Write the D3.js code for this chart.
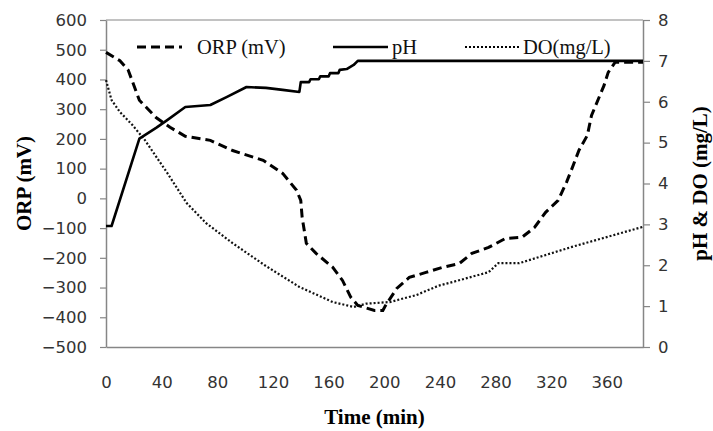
<!DOCTYPE html>
<html>
<head>
<meta charset="utf-8">
<script src="https://cdn.jsdelivr.net/npm/d3@7"></script>
<style>
  body { margin: 0; background: #fff; }
  svg { display: block; }
</style>
</head>
<body>
<div id="chart"></div>
<script>
// values
var orpTime = [0, 10, 16, 24, 36, 46, 57, 75, 91, 113, 127, 137, 140, 141, 144, 151, 163, 170, 176, 181, 193, 199, 201, 209, 218, 230, 242, 254, 263, 275, 287, 299, 308, 316, 325, 331, 335, 340, 346, 349, 358, 361, 366, 386];
var orpValue = [491, 463, 431, 330, 272, 239, 209, 195, 161, 128, 84, 27, -7, -64, -151, -185, -232, -276, -333, -360, -377, -377, -360, -303, -266, -249, -232, -219, -185, -165, -135, -131, -98, -47, -7, 54, 101, 162, 212, 279, 380, 424, 458, 458];

var phTime = [0, 4, 24, 36, 44, 57, 75, 87, 101, 115, 127, 139, 140, 146, 147, 153, 154, 160, 161, 167, 168, 173, 178, 181, 386];
var phValue = [2.96, 2.96, 5.1, 5.36, 5.55, 5.87, 5.92, 6.12, 6.36, 6.34, 6.29, 6.24, 6.48, 6.48, 6.55, 6.55, 6.62, 6.62, 6.7, 6.7, 6.78, 6.8, 6.9, 7.0, 7.0];

var doTime = [0, 4, 10, 19, 28, 44, 58, 72, 91, 115, 139, 163, 178, 187, 204, 223, 239, 247, 275, 282, 297, 335, 386];
var doValue = [6.53, 6.04, 5.75, 5.43, 5.06, 4.26, 3.52, 3.03, 2.54, 1.98, 1.47, 1.1, 0.98, 1.06, 1.1, 1.27, 1.5, 1.57, 1.83, 2.05, 2.05, 2.45, 2.94];

var xTicks = [0, 40, 80, 120, 160, 200, 240, 280, 320, 360];
var leftTicks = [-500, -400, -300, -200, -100, 0, 100, 200, 300, 400, 500, 600];
var rightTicks = [0, 1, 2, 3, 4, 5, 6, 7, 8];

var W = 713, H = 431;
var pLeft = 106, pRight = 643, pTop = 20, pBottom = 347;

var svg = d3.select("#chart").append("svg")
    .attr("width", W)
    .attr("height", H);

var x = d3.scaleLinear().domain([0, 386]).range([pLeft, pRight]);
var yL = d3.scaleLinear().domain([-500, 600]).range([pBottom, pTop]);
var yR = d3.scaleLinear().domain([0, 8]).range([pBottom, pTop]);

var axisColor = "#868686";
var tickFont = "'DejaVu Sans', Verdana, sans-serif";
var serif = "'Liberation Serif', 'Times New Roman', serif";

// plot frame (top line)
svg.append("line")
    .attr("x1", pLeft).attr("x2", pRight)
    .attr("y1", pTop).attr("y2", pTop)
    .attr("stroke", axisColor).attr("stroke-width", 1.2);

// left axis
var gL = svg.append("g")
    .attr("transform", "translate(" + pLeft + ",0)")
    .call(d3.axisLeft(yL).tickValues(leftTicks).tickSize(6).tickSizeOuter(0).tickPadding(13));

// right axis
var gR = svg.append("g")
    .attr("transform", "translate(" + pRight + ",0)")
    .call(d3.axisRight(yR).tickValues(rightTicks).tickSize(7).tickSizeOuter(0).tickPadding(8));

// bottom axis
var gB = svg.append("g")
    .attr("transform", "translate(0," + pBottom + ")")
    .call(d3.axisBottom(x).tickValues(xTicks).tickSize(0).tickSizeOuter(0).tickPadding(0));

[gL, gR, gB].forEach(function (g) {
    g.select(".domain").attr("stroke", axisColor).attr("stroke-width", 1.5);
    g.selectAll(".tick line").attr("stroke", axisColor).attr("stroke-width", 1.2);
    g.selectAll(".tick text")
        .attr("fill", "#333")
        .style("font-family", tickFont)
        .style("font-size", "16.5px");
});
gB.selectAll(".tick text").attr("y", 41).attr("dy", 0);

// data lines
var orpData = orpTime.map(function (t, i) { return [t, orpValue[i]]; });
var phData = phTime.map(function (t, i) { return [t, phValue[i]]; });
var doData = doTime.map(function (t, i) { return [t, doValue[i]]; });

var lineL = d3.line().x(function (d) { return x(d[0]); }).y(function (d) { return yL(d[1]); });
var lineR = d3.line().x(function (d) { return x(d[0]); }).y(function (d) { return yR(d[1]); });

svg.append("path")
    .datum(doData)
    .attr("d", lineR)
    .attr("fill", "none")
    .attr("stroke", "#111")
    .attr("stroke-width", 2.2)
    .attr("stroke-dasharray", "2,2");

svg.append("path")
    .datum(phData)
    .attr("d", lineR)
    .attr("fill", "none")
    .attr("stroke", "#000")
    .attr("stroke-width", 2.6)
    .attr("stroke-linejoin", "round");

svg.append("path")
    .datum(orpData)
    .attr("d", lineL)
    .attr("fill", "none")
    .attr("stroke", "#000")
    .attr("stroke-width", 3)
    .attr("stroke-dasharray", "9,5");

// legend
var legend = [
    { label: "ORP (mV)", x1: 137, x2: 182, tx: 197, dash: "9,5", w: 3 },
    { label: "pH", x1: 333, x2: 388, tx: 392, dash: null, w: 2.6 },
    { label: "DO(mg/L)", x1: 465, x2: 520, tx: 523, dash: "2,2", w: 2.2 }
];
legend.forEach(function (l) {
    svg.append("line")
        .attr("x1", l.x1).attr("x2", l.x2)
        .attr("y1", 47).attr("y2", 47)
        .attr("stroke", "#000")
        .attr("stroke-width", l.w)
        .attr("stroke-dasharray", l.dash);
    svg.append("text")
        .attr("x", l.tx).attr("y", 54)
        .style("font-family", serif)
        .style("font-size", "20.5px")
        .attr("fill", "#111")
        .text(l.label);
});

// axis titles
svg.append("text")
    .attr("transform", "translate(31," + ((pTop + pBottom) / 2) + ") rotate(-90)")
    .attr("text-anchor", "middle")
    .style("font-family", serif)
    .style("font-weight", "bold")
    .style("font-size", "21px")
    .text("ORP (mV)");

svg.append("text")
    .attr("transform", "translate(707," + ((pTop + pBottom) / 2) + ") rotate(-90)")
    .attr("text-anchor", "middle")
    .style("font-family", serif)
    .style("font-weight", "bold")
    .style("font-size", "21px")
    .text("pH & DO (mg/L)");

svg.append("text")
    .attr("x", (pLeft + pRight) / 2)
    .attr("y", 424)
    .attr("text-anchor", "middle")
    .style("font-family", serif)
    .style("font-weight", "bold")
    .style("font-size", "21px")
    .text("Time (min)");
</script>
</body>
</html>
